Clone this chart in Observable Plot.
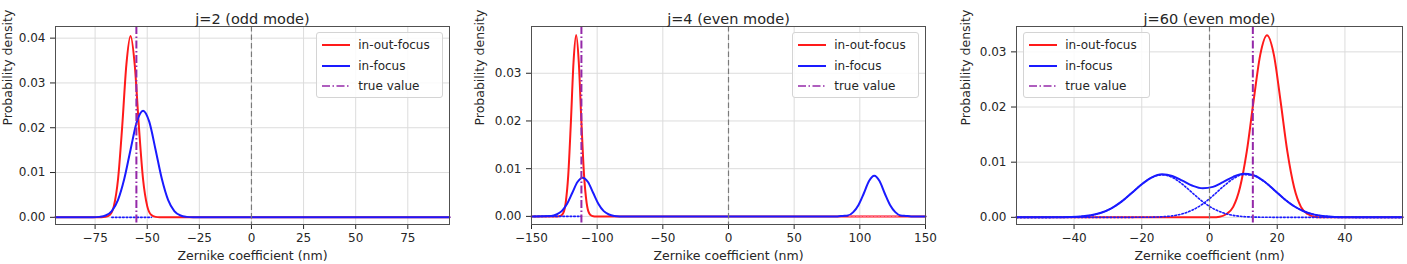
<!DOCTYPE html>
<html><head><meta charset="utf-8">
<script src="https://cdn.jsdelivr.net/npm/d3@7"></script>
<script src="https://cdn.jsdelivr.net/npm/@observablehq/plot@0.6"></script>
<style>
body{margin:0;background:#fff;}
#wrap{position:relative;width:1407px;height:264px;overflow:hidden;background:#fff;font-family:"DejaVu Sans",sans-serif;}
.panel{position:absolute;top:0;height:264px;}
.panel svg{display:block;}
.legend{position:absolute;border:1px solid #d4d4d4;border-radius:3px;background:rgba(255,255,255,0.85);box-sizing:border-box;}
.row{position:absolute;left:0;width:100%;height:18px;font-size:12px;line-height:18px;color:#262626;}
.row svg{position:absolute;left:4px;top:0;}
.row span{position:absolute;top:0;white-space:nowrap;}
</style></head>
<body><div id="wrap"></div>
<script>
// ---------- data ----------
const titles = ["j=2 (odd mode)", "j=4 (even mode)", "j=60 (even mode)"];
const seriesNames = ["in-out-focus", "in-focus", "true value"];
const xLabel = "Zernike coefficient (nm)";
const yLabel = "Probability density";

const p1XTicks = [-75, -50, -25, 0, 25, 50, 75];
const p1YTicks = [0, 0.01, 0.02, 0.03, 0.04];
const p2XTicks = [-150, -100, -50, 0, 50, 100, 150];
const p2YTicks = [0, 0.01, 0.02, 0.03];
const p3XTicks = [-40, -20, 0, 20, 40];
const p3YTicks = [0, 0.01, 0.02, 0.03];

const trueValues = [-55.2, -112, 12.8];
const zeroLine = [0];

// panel 1 (j=2)
const p1RedX = [-94, -72, -70, -68, -66, -64, -62, -60, -58, -56, -54, -52, -50, -48, -46, -44, 95];
const p1RedY = [0, 0, 0.0001, 0.0005, 0.0025, 0.0085, 0.0203, 0.0341, 0.0405, 0.0341, 0.0203, 0.0085, 0.0025, 0.0005, 0.0001, 0, 0];
const p1BlueX = [-94, -76, -73, -70, -67, -64, -61, -58, -55, -52, -49, -46, -43, -40, -37, -34, -31, -28, 95];
const p1BlueY = [0, 0, 0.0001, 0.0004, 0.0014, 0.0039, 0.0086, 0.0151, 0.0213, 0.0238, 0.0213, 0.0151, 0.0086, 0.0039, 0.0014, 0.0004, 0.0001, 0, 0];
const p1BlueDotX = [-67, -48];
const p1BlueDotY = [0, 0];

// panel 2 (j=4)
const p2RedX = [-150, -130, -128, -126, -124, -122, -120, -118, -116, -114, -112, -110, -108, -106, -104, -102, 150];
const p2RedY = [0, 0, 0.0001, 0.0006, 0.0028, 0.0087, 0.0198, 0.0323, 0.038, 0.0323, 0.0198, 0.0087, 0.0028, 0.0006, 0.0001, 0, 0];
const p2BlueX = [-150, -147, -135, -131, -127, -123, -119, -115, -111, -107, -103, -99, -95, -91, -87, -83, 83, 87, 91, 95, 99, 103, 107, 111, 115, 119, 123, 127, 131, 135, 139, 150];
const p2BlueY = [0, 0, 0.0001, 0.0004, 0.0011, 0.0026, 0.0049, 0.0072, 0.0081, 0.0072, 0.0049, 0.0026, 0.0011, 0.0004, 0.0001, 0, 0, 0.0001, 0.0002, 0.0009, 0.0024, 0.0048, 0.0074, 0.0085, 0.0074, 0.0048, 0.0024, 0.0009, 0.0002, 0.0001, 0, 0];
const p2BlueDotX = [-148, -112];
const p2BlueDotY = [0, 0];
const p2RedDotX = [92, 130];
const p2RedDotY = [0, 0];

// panel 3 (j=60)
const p3RedX = [-57, 1, 3, 5, 7, 9, 11, 13, 15, 17, 19, 21, 23, 25, 27, 29, 31, 33, 57];
const p3RedY = [0, 0, 0.0001, 0.0006, 0.0019, 0.0054, 0.0119, 0.021, 0.0295, 0.033, 0.0295, 0.021, 0.0119, 0.0054, 0.0019, 0.0006, 0.0001, 0, 0];
const p3BlueX = [-57, -47, -44, -41, -38, -35, -32, -29, -26, -23, -20, -17, -14, -11, -8, -5, -2, 1, 4, 7, 10, 13, 16, 19, 22, 25, 28, 31, 34, 37, 40, 43, 57];
const p3BlueY = [0, 0, 0.00002, 0.00005, 0.00014, 0.00036, 0.00082, 0.00162, 0.00284, 0.0044, 0.00601, 0.00726, 0.0078, 0.0075, 0.00664, 0.00573, 0.00526, 0.00552, 0.00638, 0.00734, 0.00789, 0.00764, 0.00658, 0.00501, 0.00338, 0.00201, 0.00106, 0.00049, 0.0002, 0.00007, 0.00002, 0, 0];
const p3CompAX = [-57, -47, -44, -41, -38, -35, -32, -29, -26, -23, -20, -17, -14, -11, -8, -5, -2, 1, 4, 7, 10, 13, 16, 19, 57];
const p3CompAY = [0, 0, 0.00002, 0.00005, 0.00014, 0.00036, 0.00082, 0.00162, 0.00284, 0.0044, 0.006, 0.00723, 0.0077, 0.00723, 0.006, 0.0044, 0.00284, 0.00162, 0.00082, 0.00036, 0.00014, 0.00005, 0.00002, 0, 0];
const p3CompBX = [-57, -23, -20, -17, -14, -11, -8, -5, -2, 1, 4, 7, 10, 13, 16, 19, 22, 25, 28, 31, 34, 37, 40, 43, 57];
const p3CompBY = [0, 0, 0.00001, 0.00003, 0.0001, 0.00027, 0.00064, 0.00133, 0.00242, 0.0039, 0.00556, 0.00698, 0.00775, 0.00759, 0.00656, 0.00501, 0.00338, 0.00201, 0.00106, 0.00049, 0.0002, 0.00007, 0.00002, 0, 0];

// ---------- drawing ----------
const RED = "#ff1a1a", BLUE = "#1a1aff", PURPLE = "#9428a8", GRAY = "#7a7a7a";
const pts = (xs, ys) => xs.map((x, i) => ({x, y: ys[i]}));

const panels = [
  {left: 0, width: 470, ml: 55, mr: 21, xd: [-94, 95], yd: [-0.0016, 0.0426], xt: p1XTicks, yt: p1YTicks,
   solid: [[p1RedX, p1RedY, RED], [p1BlueX, p1BlueY, BLUE]],
   dotted: [[p1BlueDotX, p1BlueDotY, BLUE]], legLeft: 315.7, ylx: -48},
  {left: 470, width: 470, ml: 61, mr: 15, xd: [-150, 150], yd: [-0.0017, 0.0398], xt: p2XTicks, yt: p2YTicks,
   solid: [[p2RedX, p2RedY, RED], [p2BlueX, p2BlueY, BLUE]],
   dotted: [[p2BlueDotX, p2BlueDotY, BLUE], [p2RedDotX, p2RedDotY, "#ff6a8a"]], legLeft: 321.7, ylx: -52},
  {left: 940, width: 467, ml: 76, mr: 5, xd: [-57, 57], yd: [-0.0013, 0.0346], xt: p3XTicks, yt: p3YTicks,
   solid: [[p3RedX, p3RedY, RED], [p3BlueX, p3BlueY, BLUE]],
   dotted: [[p3CompAX, p3CompAY, BLUE], [p3CompBX, p3CompBY, BLUE]], legLeft: 82.7, ylx: -51}
];

const wrap = document.getElementById("wrap");

panels.forEach((p, k) => {
  const div = document.createElement("div");
  div.className = "panel";
  div.style.left = p.left + "px";
  div.style.width = p.width + "px";

  const marks = [
    Plot.ruleX(p.xt, {stroke: "#dcdcdc", strokeWidth: 1}),
    Plot.ruleY(p.yt, {stroke: "#dcdcdc", strokeWidth: 1}),
    ...p.solid.map(([xs, ys, c]) => Plot.line(pts(xs, ys), {x: "x", y: "y", stroke: c, strokeWidth: 2, curve: "monotone-x"})),
    ...p.dotted.map(([xs, ys, c]) => Plot.line(pts(xs, ys), {x: "x", y: "y", stroke: c, strokeWidth: 1.6, strokeDasharray: "1.6,2", curve: "monotone-x"})),
    Plot.ruleX(zeroLine, {stroke: GRAY, strokeWidth: 1.2, strokeDasharray: "5.5,3"}),
    Plot.ruleX([trueValues[k]], {stroke: PURPLE, strokeWidth: 2, strokeDasharray: "8,2.5,1.5,2.5"}),
    Plot.frame({stroke: "#505050", strokeWidth: 1}),
    Plot.text([titles[k]], {frameAnchor: "top", dy: -13, fontSize: 14.5, fill: "#262626"}),
    Plot.text([xLabel], {frameAnchor: "bottom", dy: 35, lineAnchor: "bottom", fontSize: 12.5, fill: "#262626"}),
    Plot.text([yLabel], {frameAnchor: "left", dx: p.ylx, rotate: -90, fontSize: 12.5, fill: "#262626"})
  ];

  const chart = Plot.plot({
    width: p.width, height: 264,
    marginLeft: p.ml, marginRight: p.mr, marginTop: 26, marginBottom: 40,
    style: {fontFamily: "DejaVu Sans", fontSize: "12px", color: "#262626", background: "transparent", overflow: "hidden"},
    x: {domain: p.xd, ticks: p.xt, tickSize: 5, tickPadding: 4, label: null},
    y: {domain: p.yd, ticks: p.yt, tickFormat: d3.format(".2f"), tickSize: 5, tickPadding: 5, label: null},
    marks
  });
  div.appendChild(chart);

  // legend
  const leg = document.createElement("div");
  leg.className = "legend";
  leg.style.left = p.legLeft + "px";
  leg.style.top = "31.7px";
  leg.style.width = "127px";
  leg.style.height = "66.5px";
  const styles = [
    {c: RED, dash: null},
    {c: BLUE, dash: null},
    {c: PURPLE, dash: "8,2.5,1.5,2.5", op: 0.75}
  ];
  seriesNames.forEach((name, i) => {
    const row = document.createElement("div");
    row.className = "row";
    row.style.top = (3.3 + i * 20.7) + "px";
    const s = styles[i];
    row.innerHTML = `<svg width="30" height="18"><line x1="1" x2="29" y1="9" y2="9" stroke="${s.c}" stroke-width="2" ${s.dash ? `stroke-dasharray="${s.dash}"` : ""} ${s.op ? `stroke-opacity="${s.op}"` : ""}/></svg><span style="left:41.5px">${name}</span>`;
    leg.appendChild(row);
  });
  div.appendChild(leg);
  wrap.appendChild(div);
});
</script>
</body></html>
